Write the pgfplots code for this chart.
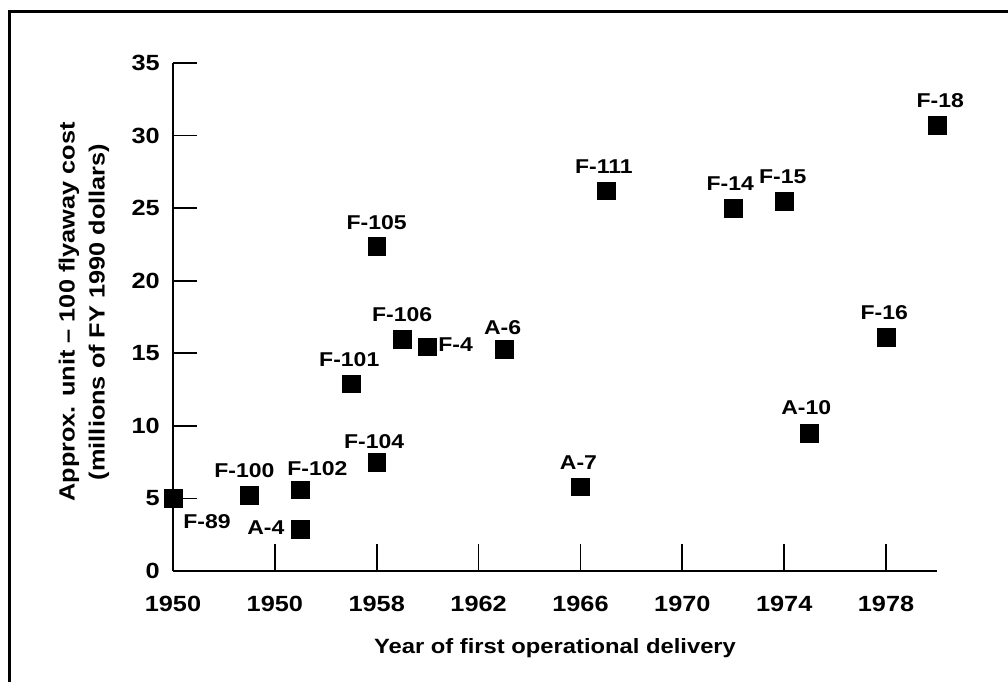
\documentclass[border=0pt]{standalone}
\usepackage{fontspec}
\setmainfont{Liberation Sans}[FakeStretch=1.15]
\usepackage{pgfplots}
\pgfplotsset{compat=1.18}
\usepackage{pgfplotstable}
\pgfplotstableread{
year cost name
1950 5.0 F-89
1953 5.2 F-100
1955 5.6 F-102
1955 2.9 A-4
1958 7.5 F-104
1957 12.9 F-101
1958 22.4 F-105
1959 15.95 F-106
1960 15.45 F-4
1963 15.3 A-6
1967 26.2 F-111
1966 5.8 A-7
1972 25.0 F-14
1974 25.5 F-15
1978 16.1 F-16
1975 9.5 A-10
1980 30.7 F-18
}\aircraft
\begin{document}
\bfseries
\begin{tikzpicture}[lbl/.style={font=\fontsize{15}{15}\selectfont, inner sep=0pt, anchor=center}]
\begin{axis}[
  at={(129.75pt,83.25pt)}, anchor=south west,
  scale only axis, width=573pt, height=381pt,
  xmin=1950, xmax=1980, ymin=0, ymax=35,
  axis x line=bottom, axis y line=left,
  axis line style={-, line width=1.3pt, black},
  every outer x axis line/.append style={-},
  every outer y axis line/.append style={-},
  every inner x axis line/.append style={-},
  every inner y axis line/.append style={-},
  clip=false,
  tick align=inside,
  major tick length=18pt,
  tick style={line width=1.3pt, black},
  x tick style={/pgfplots/major tick length=20pt},
  xtick={1950,1954,1958,1962,1966,1970,1974,1978},
  xticklabels={1950,1950,1958,1962,1966,1970,1974,1978},
  ytick={0,5,10,15,20,25,30,35},
  yticklabels={0,5,10,15,20,25,30,35},
  /pgf/number format/assume math mode=true,
  x tick label style={font=\fontsize{16.5}{16.5}\selectfont, inner sep=0pt, anchor=north, yshift=-18.75pt},
  y tick label style={font=\fontsize{16.5}{16.5}\selectfont, inner sep=0pt, anchor=east, xshift=-9.75pt},
  xlabel={Year of first operational delivery},
  xlabel style={font=\fontsize{15.5}{15.5}\selectfont, at={(axis description cs:0.5,0)}, anchor=base, yshift=-62.25pt, inner sep=0pt},
  ylabel={Approx. unit \textendash{} 100 flyaway cost\\(millions of FY 1990 dollars)},
  ylabel style={font=\fontsize{16.5}{22.5}\selectfont, align=center, at={([xshift=-66.75pt,yshift=3.75pt]axis description cs:0,0.5)}, anchor=center, inner sep=0pt},
]
\addplot[only marks, mark=square*, mark size=6.7pt, mark options={fill=black, draw=black, line width=0.4pt}] table[x=year, y=cost] {\aircraft};
\node[lbl, xshift=25.5pt, yshift=-17.25pt] at (axis cs:1950,5.0) {F-89};
\node[lbl, xshift=-3.75pt, yshift=18.75pt] at (axis cs:1953,5.2) {F-100};
\node[lbl, xshift=12.75pt, yshift=15.75pt] at (axis cs:1955,5.6) {F-102};
\node[lbl, xshift=-25.9pt, yshift=1.1pt] at (axis cs:1955,2.9) {A-4};
\node[lbl, xshift=-1.9pt, yshift=15.75pt] at (axis cs:1958,7.5) {F-104};
\node[lbl, xshift=-1.5pt, yshift=18pt] at (axis cs:1957,12.9) {F-101};
\node[lbl, xshift=0pt, yshift=17.4pt] at (axis cs:1958,22.4) {F-105};
\node[lbl, xshift=0pt, yshift=18.5pt] at (axis cs:1959,15.95) {F-106};
\node[lbl, xshift=21pt, yshift=1.5pt] at (axis cs:1960,15.45) {F-4};
\node[lbl, xshift=-1.1pt, yshift=16.1pt] at (axis cs:1963,15.3) {A-6};
\node[lbl, xshift=-1.5pt, yshift=18pt] at (axis cs:1967,26.2) {F-111};
\node[lbl, xshift=-1.5pt, yshift=18.4pt] at (axis cs:1966,5.8) {A-7};
\node[lbl, xshift=-2.25pt, yshift=18.75pt] at (axis cs:1972,25.0) {F-14};
\node[lbl, xshift=-1.1pt, yshift=18pt] at (axis cs:1974,25.5) {F-15};
\node[lbl, xshift=-1.3pt, yshift=18.5pt] at (axis cs:1978,16.1) {F-16};
\node[lbl, xshift=-2.6pt, yshift=18.75pt] at (axis cs:1975,9.5) {A-10};
\node[lbl, xshift=2.4pt, yshift=18.4pt] at (axis cs:1980,30.7) {F-18};
\end{axis}
\draw[line width=2pt, line join=miter] (7.125pt,-10pt) -- (7.125pt,503pt) -- (770pt,503pt);
\pgfresetboundingbox
\path[use as bounding box] (0pt,0pt) rectangle (756pt,511.5pt);
\end{tikzpicture}
\end{document}
